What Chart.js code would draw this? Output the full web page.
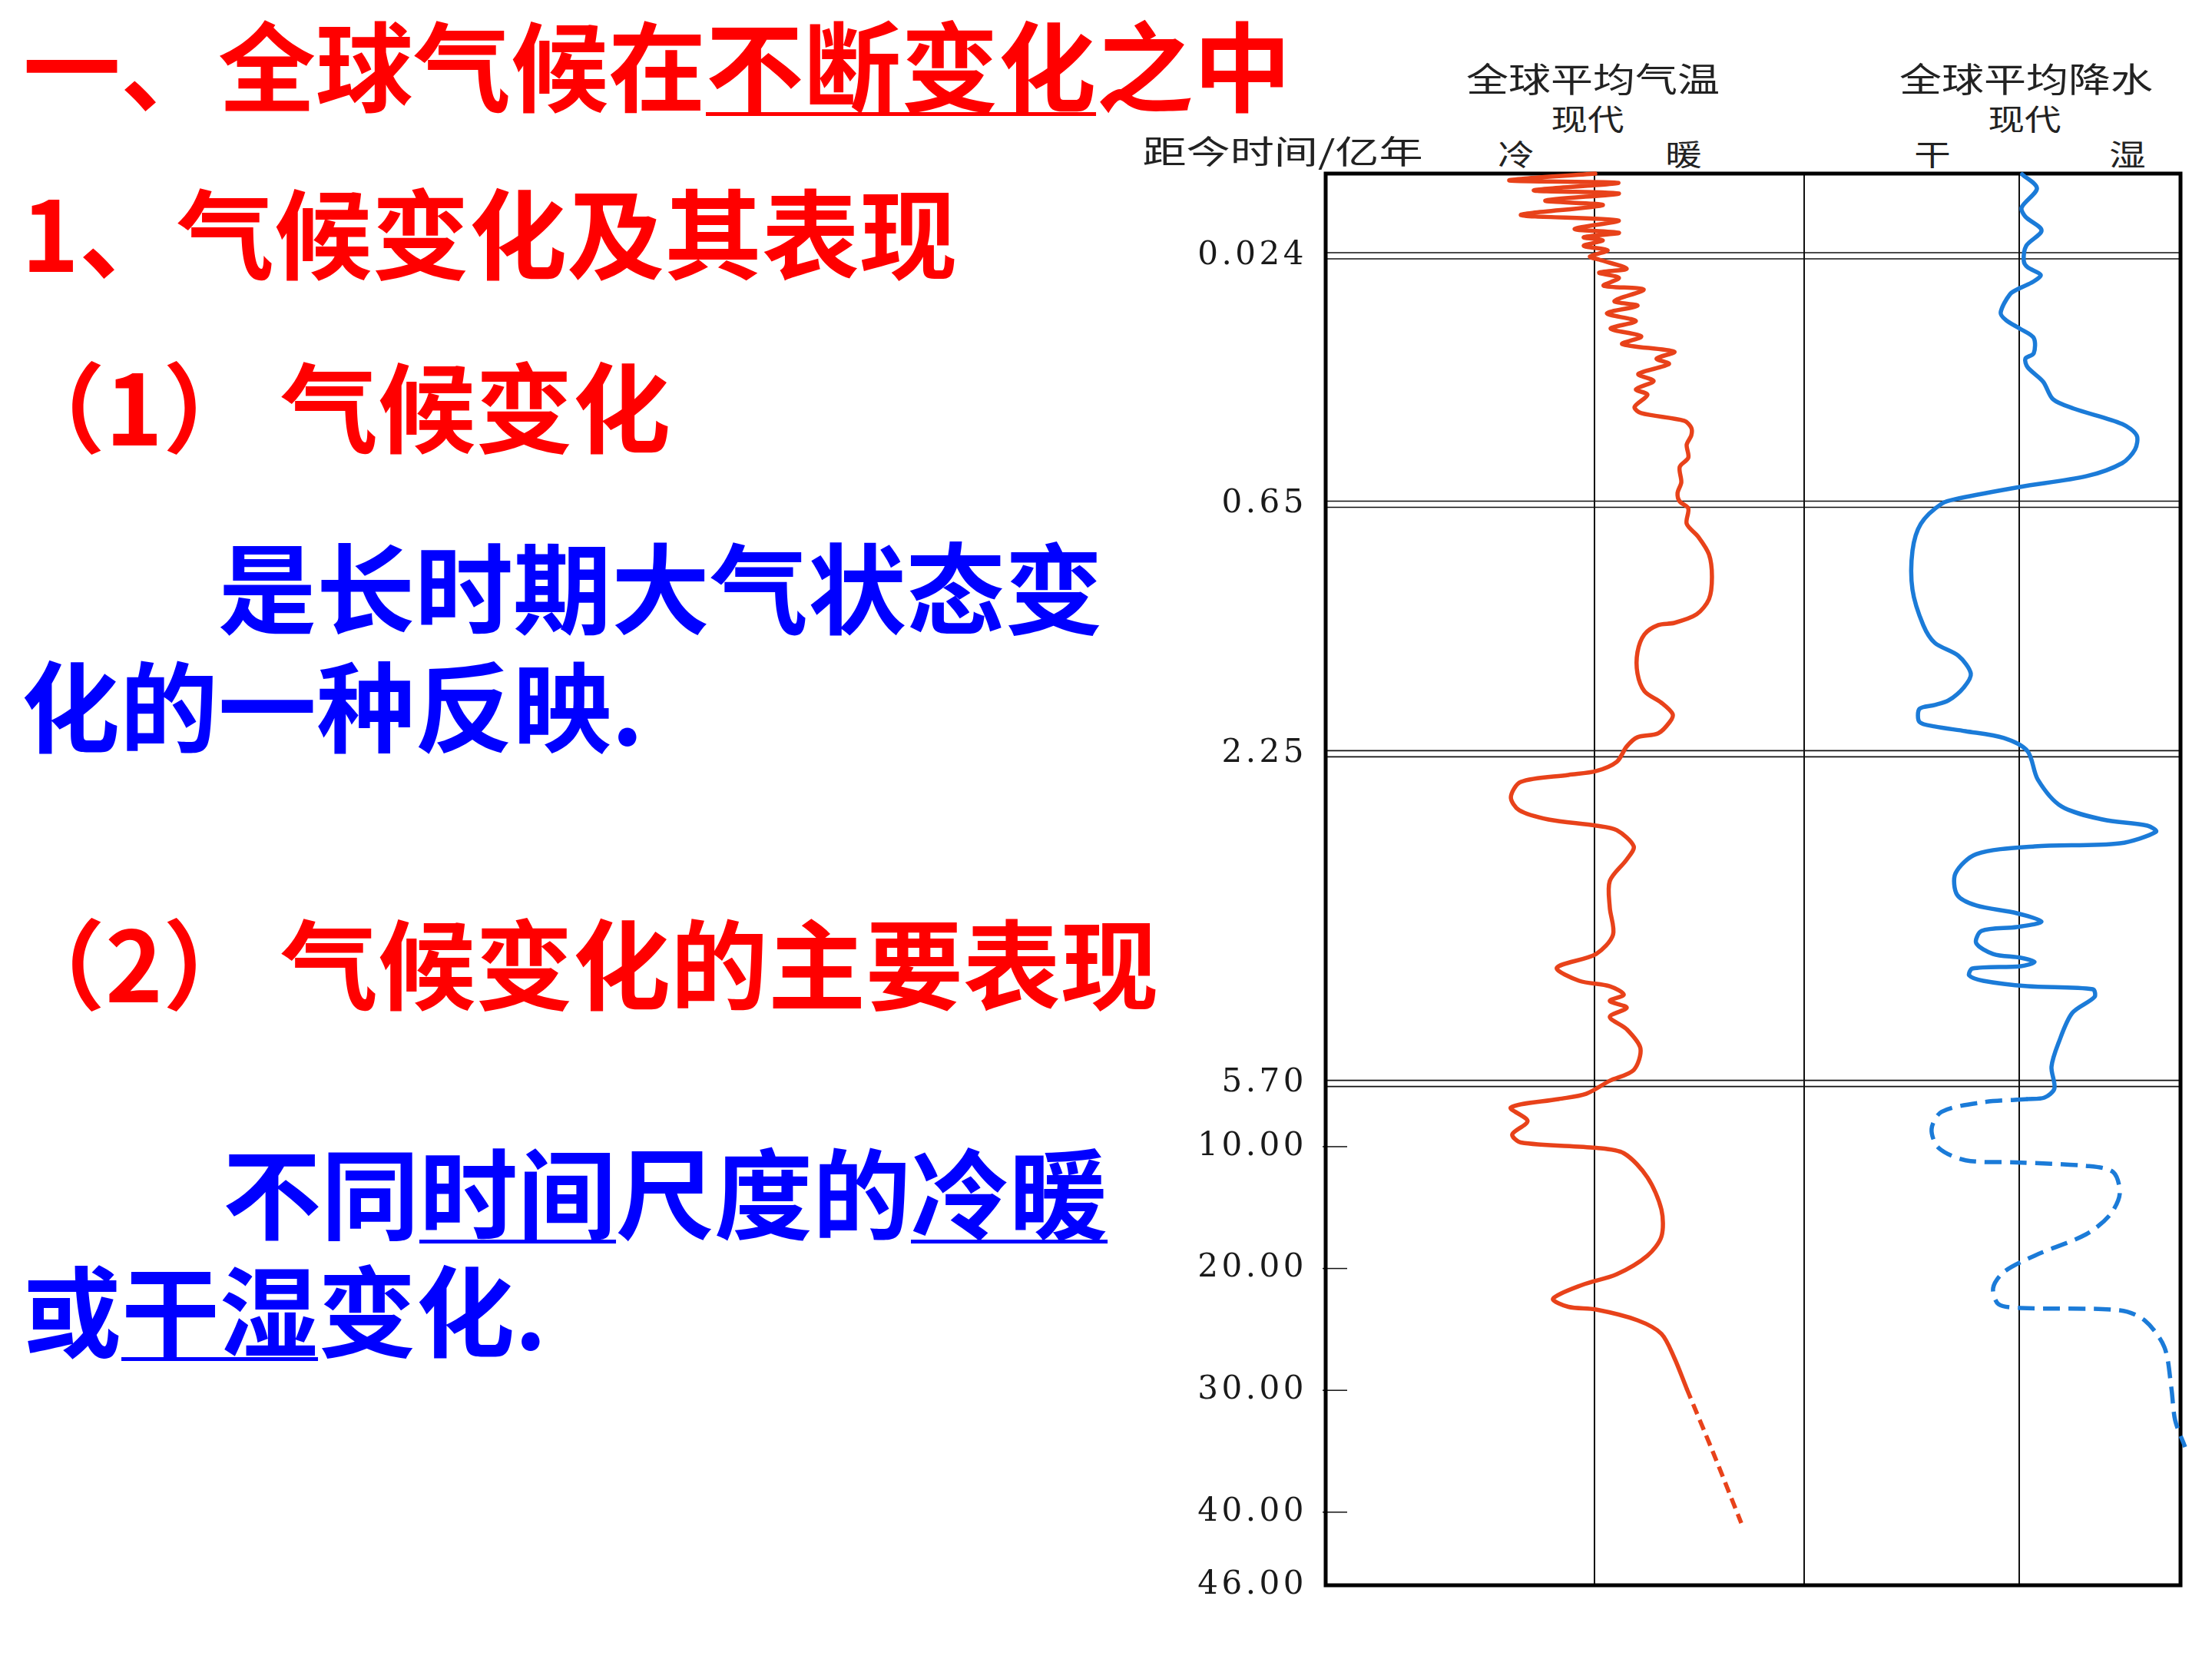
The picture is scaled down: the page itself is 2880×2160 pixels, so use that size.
<!DOCTYPE html>
<html lang="zh-CN">
<head>
<meta charset="utf-8">
<title>全球气候在不断变化之中</title>
<script src="https://cdn.jsdelivr.net/npm/chart.js@4.4.1/dist/chart.umd.min.js"></script>
<style>
  html, body { margin: 0; padding: 0; background: #fff; }
  body { width: 2880px; height: 2160px; position: relative; overflow: hidden; font-family: "Noto Sans CJK SC", sans-serif; }
  .line { position: absolute; white-space: nowrap; line-height: 1; font-weight: 700; }
  .red { color: #ff0000; font-size: 127px; }
  .blue { color: #0000ff; font-size: 128px; }
  u { text-decoration-thickness: 5px; text-underline-offset: 10px; }
  .lbl { position: absolute; white-space: nowrap; line-height: 1; color: #222; font-weight: 400;
         transform: translate(-50%, -50%) scaleX(1.25); }
  #chartBox { position: absolute; left: 1480px; top: 0; width: 1400px; height: 2160px; }
</style>
</head>
<body>

<div class="line red" style="left:30px;top:18px">一、全球气候在<u>不断变化</u>之中</div>
<div class="line red" style="left:28px;top:236px">1、气候变化及其表现</div>
<div class="line red" style="left:10px;top:462px">（1）<span style="margin-left:26px">气候变化</span></div>
<div class="line blue" style="left:284px;top:697px">是长时期大气状态变</div>
<div class="line blue" style="left:28px;top:851px">化的一种反映.</div>
<div class="line red" style="left:10px;top:1187px">（2）<span style="margin-left:26px">气候变化的主要表现</span></div>
<div class="line blue" style="left:290px;top:1485px">不同<u>时间</u>尺度的<u>冷暖</u></div>
<div class="line blue" style="left:30px;top:1638px">或<u>干湿</u>变化.</div>

<div class="lbl" style="left:1670px;top:195px;font-size:42px;transform:translate(-50%,-50%) scaleX(1.36)">距今时间/亿年</div>
<div class="lbl" style="left:2074px;top:101px;font-size:44px">全球平均气温</div>
<div class="lbl" style="left:2067px;top:153px;font-size:38px">现代</div>
<div class="lbl" style="left:1974px;top:199px;font-size:38px">冷</div>
<div class="lbl" style="left:2192px;top:199px;font-size:38px">暖</div>
<div class="lbl" style="left:2638px;top:101px;font-size:44px">全球平均降水</div>
<div class="lbl" style="left:2636px;top:153px;font-size:38px">现代</div>
<div class="lbl" style="left:2516px;top:199px;font-size:38px">干</div>
<div class="lbl" style="left:2770px;top:199px;font-size:38px">湿</div>

<div id="chartBox"><canvas id="chart"></canvas></div>

<script>
// time before present, 亿年 (y axis)
const yTicks = [0.024, 0.65, 2.25, 5.70, 10, 20, 30, 40, 46];
const yTickLabels = ['0.024', '0.65', '2.25', '5.70', '10.00', '20.00', '30.00', '40.00', '46.00'];
const doubleLineTicks = [0.024, 0.65, 2.25, 5.70];
const shortTickValues = [10, 20, 30, 40];

// the time axis is drawn in pieces, each with its own scale
const yBreaks = [0, 0.024, 0.65, 2.25, 5.70, 10, 46];
const yBreakPos = [0, 0.0582, 0.2342, 0.4110, 0.6445, 0.6893, 1];

// global mean temperature, relative to today (negative = cold)
const tempAge = [
  0, 0.0020, 0.0027, 0.0049, 0.0058, 0.0079, 0.0092, 0.0121, 0.0137, 0.0162,
  0.0173, 0.0186, 0.0195, 0.0211, 0.0224, 0.0259, 0.0337, 0.0569, 0.0666, 0.0801,
  0.0995, 0.1091, 0.1382, 0.1498, 0.1691, 0.1885, 0.2078, 0.2272, 0.2465, 0.2659,
  0.2833, 0.2968, 0.322, 0.3394, 0.3607, 0.3742, 0.4052, 0.4207, 0.44, 0.4574,
  0.4768, 0.5, 0.5329, 0.5561, 0.5948, 0.6219, 0.6432, 0.677, 0.7755, 0.8592,
  0.9725, 1.115, 1.258, 1.356, 1.411, 1.425, 1.484, 1.598, 1.736, 1.849,
  1.923, 1.996, 2.046, 2.119, 2.144, 2.203, 2.334, 2.431, 2.471, 2.544,
  2.704, 2.841, 2.938, 3.002, 3.05, 3.219, 3.356, 3.581, 3.862, 4.144,
  4.345, 4.49, 4.626, 4.683, 4.771, 4.836, 4.908, 5.004, 5.133, 5.334,
  5.559, 5.672, 6.404, 6.768, 7.342, 8.254, 9.166, 9.713, 10.1, 10.54,
  12.52, 15.17, 17.38, 18.95, 20.47, 21.35, 22.48, 23.15, 23.37, 24.25,
  25.36, 27.34, 29.86, 35.03, 40.89
];
const tempValue = [
  0.03, -3.17, 0.89, -2.26, 0.91, -1.83, 0.31, -2.74, 0.89, -0.74,
  0.91, -0.40, 0.31, -0.40, 0.49, -0.17, 0.17, 1.2, 0.17, 0.91,
  0.34, 1.83, 0.74, 1.6, 0.46, 1.54, 0.6, 1.74, 1.03, 2.97,
  2.31, 2.77, 1.63, 2.2, 1.54, 1.97, 1.49, 1.74, 3.34, 3.6,
  3.6, 3.43, 3.49, 3.17, 3.23, 3.09, 3.17, 3.49, 3.43, 3.86,
  4.26, 4.37, 4.26, 3.8, 2.97, 2.37, 1.86, 1.6, 1.6, 1.86,
  2.49, 2.91, 2.8, 2.37, 1.6, 1.2, 0.83, 0.06, -0.97, -2.74,
  -3.11, -2.8, -1.71, 0.06, 0.83, 1.46, 1.2, 0.57, 0.57, 0.69,
  0.06, -1.4, -0.57, 0.57, 1.09, 0.57, 1.2, 0.57, 1.2, 1.71,
  1.46, 0.57, -0.31, -1.34, -3.11, -2.49, -3.06, -2.74, 0.06, 1.09,
  1.97, 2.49, 2.49, 1.97, 0.83, -0.46, -1.54, -0.97, 0.06, 1.6,
  2.49, 2.97, 3.43, 4.4, 5.46
];
const tempDashFrom = 29.86;

// global mean precipitation, relative to today (negative = dry)
const rainAge = [
  0.0002, 0.0043, 0.0099, 0.0126, 0.0166, 0.0211, 0.0375, 0.053, 0.0724, 0.0898,
  0.1053, 0.1208, 0.1672, 0.1865, 0.2078, 0.2311, 0.2697, 0.2833, 0.3046, 0.3413,
  0.3858, 0.4091, 0.4478, 0.4768, 0.5116, 0.5465, 0.5793, 0.6064, 0.6355, 0.649,
  0.7755, 0.9478, 1.199, 1.425, 1.539, 1.622, 1.736, 1.824, 1.908, 1.937,
  1.962, 2.046, 2.075, 2.105, 2.149, 2.233, 2.519, 2.801, 2.938, 3.002,
  3.066, 3.187, 3.219, 3.3, 3.501, 3.726, 3.838, 3.919, 4.007, 4.063,
  4.104, 4.232, 4.345, 4.385, 4.429, 4.474, 4.498, 4.57, 4.626, 4.683,
  4.715, 4.795, 4.964, 5.278, 5.527, 6.039, 6.664, 6.768, 6.977, 7.634,
  8.801, 10.1, 11.12, 11.29, 11.58, 12.08, 13.85, 15.61, 17.19, 18.95,
  20.28, 21.6, 22.93, 23.24, 23.43, 24.25, 26.46, 29.8, 32.45, 34.65
];
const rainValue = [
  0.11, 0.66, 0.09, 0.23, 0.83, 0.26, 0.17, 0.31, 0.8, 0.51,
  0.03, -0.34, -0.69, -0.49, 0.03, 0.54, 0.54, 0.23, 0.31, 0.89,
  1.26, 2.03, 3.83, 4.37, 4.31, 3.83, 2.51, 0.03, -2.26, -2.89,
  -3.66, -3.97, -3.97, -3.57, -3.14, -2.26, -1.8, -2.06, -2.63, -3.14,
  -3.71, -3.71, -3.14, -2.0, -0.57, 0.31, 0.69, 1.57, 3.11, 4.77,
  5.09, 3.74, 0.57, -1.6, -2.37, -2.31, -1.6, -0.09, 0.83, -0.09,
  -1.4, -1.6, -0.97, 0.06, 0.57, 0.06, -1.74, -1.86, -1.34, 0.31,
  2.74, 2.8, 1.97, 1.46, 1.2, 1.31, 0.94, 0.31, -1.34, -2.89,
  -3.26, -3.0, -1.99, -0.09, 2.49, 3.49, 3.74, 3.37, 2.49, 0.57,
  -0.57, -0.97, -0.77, 0.06, 3.74, 4.66, 5.4, 5.66, 5.8, 6.17
];
const rainDashFrom = 6.768;

// where the two panels meet, in temperature units
const panelSplit = 7.8;

class PiecewiseScale extends Chart.LinearScale {
  getPixelForValue(value) {
    if (value === null || value === undefined || isNaN(value)) return NaN;
    let i = 1;
    while (i < yBreaks.length - 1 && value > yBreaks[i]) i++;
    const f = yBreakPos[i - 1] + (value - yBreaks[i - 1]) / (yBreaks[i] - yBreaks[i - 1]) * (yBreakPos[i] - yBreakPos[i - 1]);
    return this.top + f * (this.bottom - this.top);
  }
  getValueForPixel(pixel) {
    const f = (pixel - this.top) / (this.bottom - this.top);
    let i = 1;
    while (i < yBreakPos.length - 1 && f > yBreakPos[i]) i++;
    return yBreaks[i - 1] + (f - yBreakPos[i - 1]) / (yBreakPos[i] - yBreakPos[i - 1]) * (yBreaks[i] - yBreaks[i - 1]);
  }
}
PiecewiseScale.id = 'piecewise';
PiecewiseScale.defaults = Chart.LinearScale.defaults;
Chart.register(PiecewiseScale);

const framePlugin = {
  id: 'frame',
  beforeDraw(chart) { chart.ctx.letterSpacing = '4.5px'; },
  afterDraw(chart) { chart.ctx.letterSpacing = '0px'; },
  beforeDatasetsDraw(chart) {
    const { ctx, chartArea: a, scales } = chart;
    ctx.save();
    ctx.strokeStyle = '#111';
    ctx.lineWidth = 1.6;
    doubleLineTicks.forEach(v => {
      const y = scales.y.getPixelForValue(v);
      [-4, 4].forEach(d => {
        ctx.beginPath();
        ctx.moveTo(a.left, y + d);
        ctx.lineTo(a.right, y + d);
        ctx.stroke();
      });
    });
    ctx.lineWidth = 1.5;
    shortTickValues.forEach(v => {
      const y = scales.y.getPixelForValue(v);
      ctx.beginPath();
      ctx.moveTo(a.left - 4, y);
      ctx.lineTo(a.left + 28, y);
      ctx.stroke();
    });
    ctx.lineWidth = 2;
    [scales.xT.getPixelForValue(0), scales.xT.getPixelForValue(panelSplit), scales.xP.getPixelForValue(0)].forEach(x => {
      ctx.beginPath();
      ctx.moveTo(x, a.top);
      ctx.lineTo(x, a.bottom);
      ctx.stroke();
    });
    ctx.strokeStyle = '#000';
    ctx.lineWidth = 5;
    ctx.strokeRect(a.left, a.top, a.right - a.left, a.bottom - a.top);
    ctx.restore();
  }
};

const dashAfter = (ages, from, dash, solid) => ctx => ages[ctx.p0DataIndex] >= from ? dash : solid;

new Chart(document.getElementById('chart'), {
  type: 'scatter',
  data: {
    datasets: [
      {
        label: '全球平均气温',
        data: tempAge.map((t, i) => ({ x: tempValue[i], y: t })),
        xAxisID: 'xT',
        yAxisID: 'y',
        borderColor: '#e8421a',
        borderWidth: 5.5,
        borderCapStyle: 'round',
        borderJoinStyle: 'round',
        showLine: true,
        tension: 0.3,
        pointRadius: 0,
        clip: false,
        segment: {
          borderDash: dashAfter(tempAge, tempDashFrom, [14, 8], undefined),
          borderCapStyle: dashAfter(tempAge, tempDashFrom, 'butt', undefined)
        }
      },
      {
        label: '全球平均降水',
        data: rainAge.map((t, i) => ({ x: rainValue[i], y: t })),
        xAxisID: 'xP',
        yAxisID: 'y',
        borderColor: '#1b7bd8',
        borderWidth: 5.5,
        borderCapStyle: 'round',
        borderJoinStyle: 'round',
        showLine: true,
        tension: 0.3,
        pointRadius: 0,
        clip: false,
        segment: {
          borderDash: dashAfter(rainAge, rainDashFrom, [22, 11], undefined),
          borderCapStyle: dashAfter(rainAge, rainDashFrom, 'butt', undefined)
        }
      }
    ]
  },
  options: {
    responsive: true,
    maintainAspectRatio: false,
    devicePixelRatio: 1,
    animation: false,
    layout: { padding: { top: 226, bottom: 96, left: 0, right: 41 } },
    plugins: { legend: { display: false }, tooltip: { enabled: false } },
    scales: {
      xT: { type: 'linear', position: 'bottom', min: -10, max: 21.8, display: false },
      xP: { type: 'linear', position: 'top', min: -25.8, max: 6.0, display: false },
      y: {
        type: 'piecewise',
        position: 'left',
        min: 0,
        max: 46,
        afterFit: s => { s.width = 246; },
        afterBuildTicks: s => { s.ticks = yTicks.map(v => ({ value: v })); },
        grid: { display: false, drawTicks: false },
        border: { display: false },
        ticks: {
          autoSkip: false,
          padding: 24,
          color: '#1a1a1a',
          font: { family: 'DejaVu Serif', size: 42 },
          callback: (v, i) => yTickLabels[i]
        }
      }
    }
  },
  plugins: [framePlugin]
});
</script>
</body>
</html>
